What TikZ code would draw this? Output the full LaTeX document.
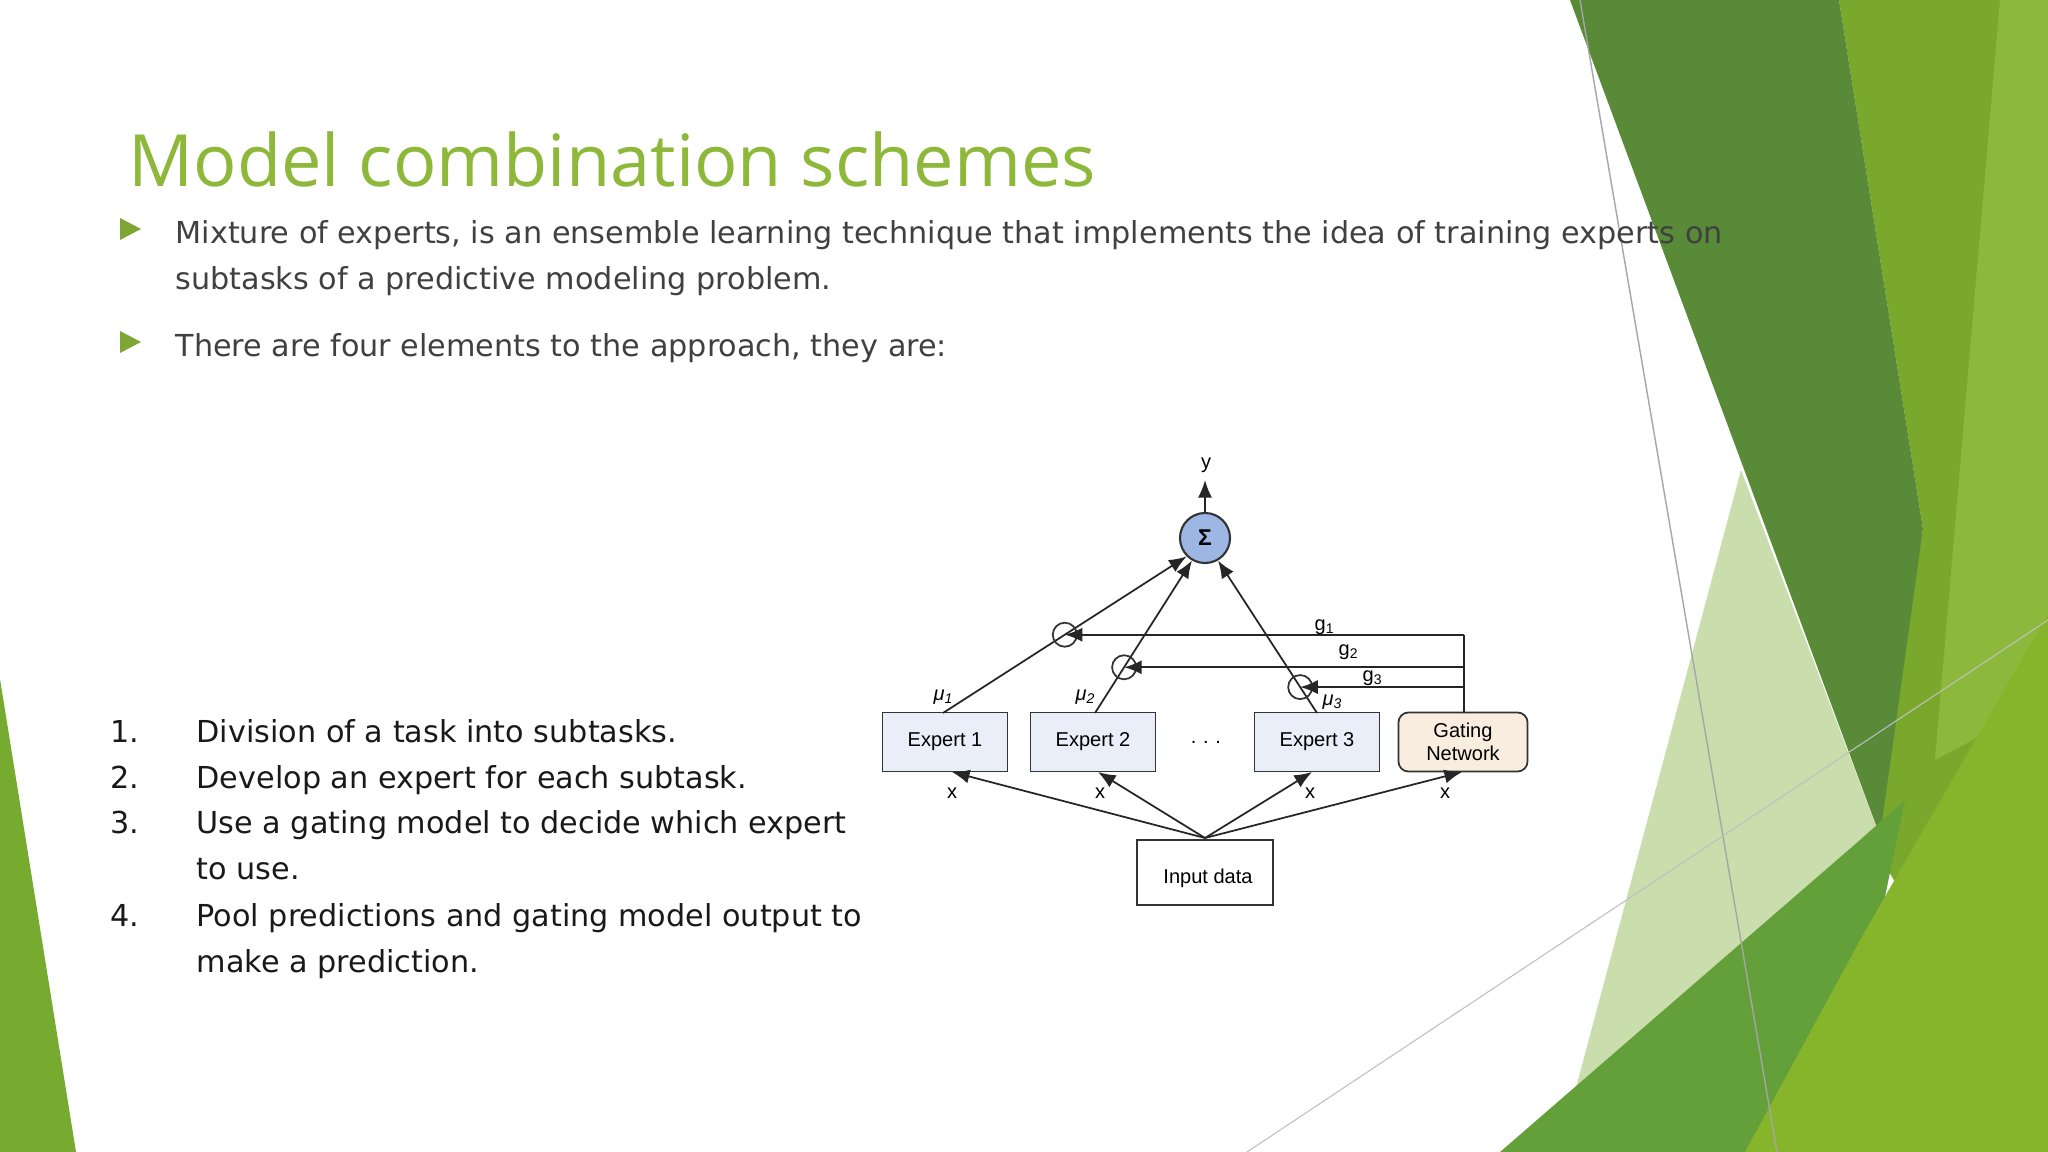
\documentclass[tikz,border=0pt]{standalone}
\usepackage{fontspec}
\setmainfont{Open Sans}
\newfontfamily\arialf{Liberation Sans}
\newfontfamily\bodyf{DejaVu Sans}
\usetikzlibrary{shapes.geometric,arrows.meta,calc}
\definecolor{titlegreen}{HTML}{8DB83A}
\definecolor{bodygray}{HTML}{404040}
\definecolor{expfill}{HTML}{E9EEF9}
\definecolor{gatefill}{HTML}{F8EDDE}
\definecolor{sigfill}{HTML}{9DB6E4}
\tikzset{
  dtext/.style={font=\arialf\fontsize{5.7}{6.5}\selectfont, inner sep=0pt},
  expert/.style={dtext, draw=black!80, fill=expfill, minimum width=1.25cm, minimum height=0.59cm, line width=0.5pt},
  gate/.style={expert, fill=gatefill, rounded corners=0.1cm, minimum width=1.29cm, align=center},
  mult/.style={circle, draw=black!80, minimum size=0.24cm, inner sep=0pt, line width=0.5pt},
  arr/.style={-{Latex[length=5pt,width=4pt]}, line width=0.5pt, black!85},
  body/.style={font=\bodyf\fontsize{8.6}{10}\selectfont, text=bodygray, anchor=base west, inner sep=0pt},
  bul/.style={fill=titlegreen!90!black},
}
\begin{document}
\begin{tikzpicture}[x=0.01cm,y=-0.01cm]
\useasboundingbox (0,0) rectangle (2048,1152);
% background
\fill[white] (0,0) rectangle (2048,1152);
\fill[color={rgb,255:red,118;green,171;blue,47}] (0,679) -- (76,1152) -- (0,1152) -- cycle;
\fill[color={rgb,255:red,122;green,168;blue,45}] (1839,0) -- (2048,0) -- (2048,1152) -- (1874,845) -- (1923,529) -- cycle;
\fill[color={rgb,255:red,140;green,185;blue,60}] (2000,0) -- (2048,0) -- (2048,700) -- (1935,760) -- cycle;
\fill[color={rgb,255:red,88;green,138;blue,55}] (1570,0) -- (1839,0) -- (1923,529) -- (1880,836) -- cycle;
\fill[color={rgb,255:red,197;green,219;blue,165}, opacity=0.9] (1570,1110) -- (1741,470) -- (1880,836) -- (1700,1152) -- cycle;
\fill[color={rgb,255:red,100;green,160;blue,58}] (1500,1152) -- (1860,840) -- (1905,800) -- (1874,950) -- (1780,1152) -- cycle;
\fill[color={rgb,255:red,134;green,181;blue,43}] (1745,1152) -- (1864,933) -- (2048,614) -- (2048,1152) -- cycle;
\draw[gray!70, line width=0.4pt] (1580,0) -- (1777,1152);
\draw[gray!50, line width=0.3pt] (1247,1152) -- (2048,620);
% title and text
\node[anchor=base west, inner sep=0pt, text=titlegreen, font=\fontsize{20.5}{24}\selectfont] (title) at (128,187) {Model combination schemes};
\fill[bul] (120,218) -- (141,229) -- (120,240) -- cycle;
\node[body] (b1a) at (175,244) {Mixture of experts, is an ensemble learning technique that implements the idea of training experts on};
\node[body] (b1b) at (175,290) {subtasks of a predictive modeling problem.};
\fill[bul] (120,331) -- (141,342) -- (120,353) -- cycle;
\node[body] (b2) at (175,357) {There are four elements to the approach, they are:};
\foreach \n/\y/\t in {1./742/Division of a task into subtasks., 2./788/Develop an expert for each subtask., 3./833/Use a gating model to decide which expert, /879/to use., 4./926/Pool predictions and gating model output to, /972/make a prediction.}{
  \node[body, text=black!90] at (110,\y) {\n};
  \node[body, text=black!90] at (196,\y) {\t};
}
% diagram
\node[circle, draw=black!80, fill=sigfill, minimum size=0.5cm, inner sep=0pt, dtext, font=\arialf\bfseries\fontsize{6.5}{7}\selectfont, line width=0.6pt] (sig) at (1205,538) {Σ};
\coordinate (yend) at (1205,480);
\draw[arr] (sig.north) -- (yend);
\node[dtext] (ylab) at (1206,465) {y};
\node[expert] (e1) at (945,742) {Expert 1};
\node[expert] (e2) at (1093,742) {Expert 2};
\node[expert] (e3) at (1317,742) {Expert 3};
\node[gate] (g) at (1463,742) {Gating\\Network};
\node[dtext] (dots) at (1206,742) {.\,\,.\,\,.};
\node[cylinder, shape border rotate=90, aspect=0.25, draw=black!80, fill=white, minimum width=1.36cm, minimum height=0.65cm, dtext, line width=0.5pt] (in) at (1205,873) {};
\node[dtext] (inlab) at (1208,878) {Input data};
\coordinate (apex) at (1205,838);
\coordinate (e1b) at (952,772); \coordinate (e2b) at (1098,772);
\coordinate (e3b) at (1312,772); \coordinate (gb) at (1462,772);
\foreach \c in {e1b,e2b,e3b,gb} \draw[arr] (apex) -- (\c);
\node[dtext] at (952,793) {x};
\node[dtext] at (1100,793) {x};
\node[dtext] at (1310,793) {x};
\node[dtext] at (1445,793) {x};
\coordinate (e1t) at (943,713); \coordinate (e2t) at (1095,713); \coordinate (e3t) at (1317,713);
\draw[arr] (e1t) -- (sig.225);
\draw[arr] (e2t) -- (sig.240);
\draw[arr] (e3t) -- (sig.300);
\node[mult] (m1) at ($(e1t)!0.5!(sig.225)$) {};
\node[mult] (m2) at ($(e2t)!0.3!(sig.240)$) {};
\node[mult] (m3) at ($(e3t)!0.17!(sig.300)$) {};
\coordinate (gt) at (1464,713);
\draw[line width=0.5pt, black!85] (gt) -- (gt |- m1);
\draw[arr] (gt |- m1) -- (m1.center);
\draw[arr] (gt |- m2) -- (m2.center);
\draw[arr] (gt |- m3) -- (m3.center);
\node[dtext] at (1325,627) {g\textsubscript{1}};
\node[dtext] at (1349,652) {g\textsubscript{2}};
\node[dtext] at (1373,678) {g\textsubscript{3}};
\node[dtext] at (944,697) {\itshape μ\textsubscript{1}};
\node[dtext] at (1086,697) {\itshape μ\textsubscript{2}};
\node[dtext] at (1333,702) {\itshape μ\textsubscript{3}};
\end{tikzpicture}
\end{document}
